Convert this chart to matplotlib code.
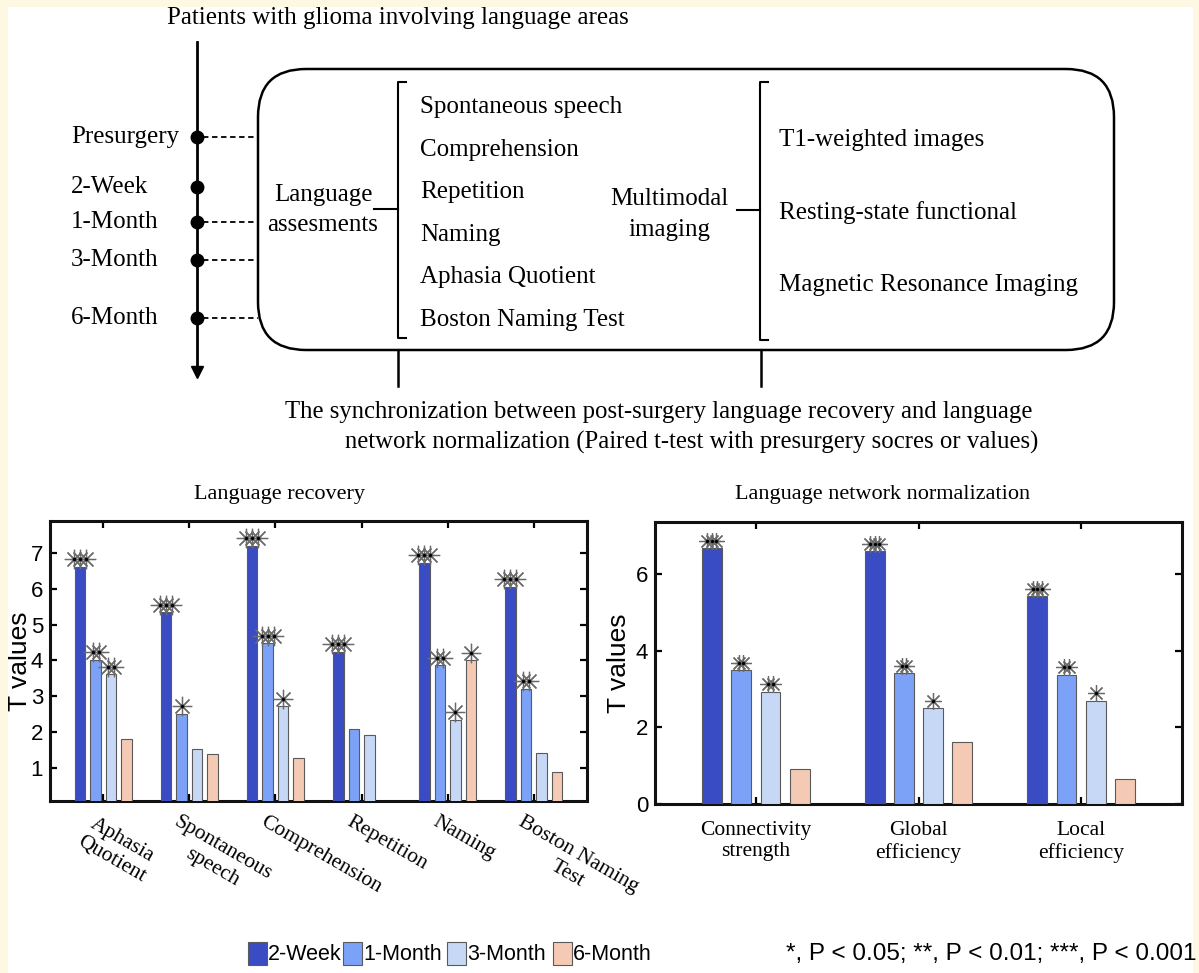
import matplotlib
matplotlib.use("Agg")
import matplotlib.pyplot as plt
from matplotlib.patches import FancyBboxPatch, Rectangle
from matplotlib.transforms import offset_copy
import numpy as np

W, H = 1199, 973
SERIF = ['Liberation Serif', 'DejaVu Serif']
SANS = ['Liberation Sans', 'DejaVu Sans']

# ---- study design ----
timepoints = ['Presurgery', '2-Week', '1-Month', '3-Month', '6-Month']
assessments = ['Spontaneous speech', 'Comprehension', 'Repetition', 'Naming',
               'Aphasia Quotient', 'Boston Naming Test']
imaging = ['T1-weighted images', 'Resting-state functional',
           'Magnetic Resonance Imaging']

# ---- series ----
series = ['2-Week', '1-Month', '3-Month', '6-Month']
colors = ['#3a4cc4', '#7ba2f6', '#c6d8f5', '#f5cab4']

# language recovery (T values vs presurgery)
recovery_labels = ['Aphasia\nQuotient', 'Spontaneous\nspeech', 'Comprehension',
                   'Repetition', 'Naming', 'Boston Naming\nTest']
recovery_2w = [6.62, 5.34, 7.20, 4.24, 6.72, 6.05]
recovery_1m = [4.02, 2.52, 4.48, 2.08, 3.87, 3.21]
recovery_3m = [3.62, 1.54, 2.72, 1.93, 2.35, 1.43]
recovery_6m = [1.82, 1.38, 1.27, 0.00, 4.00, 0.89]
recovery_sig_2w = [3, 3, 3, 3, 3, 3]
recovery_sig_1m = [2, 1, 3, 0, 2, 2]
recovery_sig_3m = [2, 0, 1, 0, 1, 0]
recovery_sig_6m = [0, 0, 0, 0, 1, 0]

# language network normalization
network_labels = ['Connectivity\nstrength', 'Global\nefficiency', 'Local\nefficiency']
network_2w = [6.67, 6.59, 5.42]
network_1m = [3.48, 3.41, 3.37]
network_3m = [2.93, 2.50, 2.69]
network_6m = [0.91, 1.62, 0.66]
network_sig_2w = [3, 3, 3]
network_sig_1m = [2, 2, 2]
network_sig_3m = [2, 1, 1]
network_sig_6m = [0, 0, 0]

p_note = '*, P < 0.05; **, P < 0.01; ***, P < 0.001'

fig = plt.figure(figsize=(W / 100, H / 100), dpi=100)
fig.patch.set_facecolor('white')

# ---------------- diagram (pixel coordinates) ----------------
ax0 = fig.add_axes([0, 0, 1, 1], zorder=0)
ax0.set_xlim(0, W)
ax0.set_ylim(H, 0)
ax0.axis('off')

tfs = 18
ax0.text(398, 18, 'Patients with glioma involving language areas',
         family=SERIF, fontsize=tfs, ha='center', va='center')

# timeline
tl_x = 197
ax0.plot([tl_x, tl_x], [42, 370], color='black', lw=2)
ax0.plot([tl_x], [372], marker='v', ms=8, color='black')
tp_y = [137, 187, 222, 260, 318]
dashed = [True, False, True, True, True]
for name, y, d in zip(timepoints, tp_y, dashed):
    ax0.plot([tl_x], [y], marker='o', ms=9, color='black')
    ax0.text(71, y, name, family=SERIF, fontsize=tfs, ha='left', va='center')
    if d:
        ax0.plot([tl_x + 6, 258], [y, y], color='black', lw=1.3, ls=(0, (3, 2)))

# rounded box
box = FancyBboxPatch((258, 69), 1114 - 258, 350 - 69,
                     boxstyle='round,pad=0,rounding_size=48',
                     fill=False, lw=1.8, ec='black')
ax0.add_patch(box)

ax0.text(323, 195, 'Language', family=SERIF, fontsize=tfs, ha='center', va='center')
ax0.text(323, 225, 'assesments', family=SERIF, fontsize=tfs, ha='center', va='center')


def bracket(x, y0, y1, ym, tick_from):
    ax0.plot([x + 8, x, x, x + 8], [y0, y0, y1, y1], color='black', lw=1.5)
    ax0.plot([tick_from, x], [ym, ym], color='black', lw=1.5)


bracket(398, 82, 338, 209, 374)
for i, s in enumerate(assessments):
    ax0.text(420, 107 + i * 42.6, s, family=SERIF, fontsize=tfs, ha='left', va='center')

ax0.text(669, 199, 'Multimodal', family=SERIF, fontsize=tfs, ha='center', va='center')
ax0.text(669, 230, 'imaging', family=SERIF, fontsize=tfs, ha='center', va='center')
bracket(760, 82, 340, 210, 737)
for i, s in enumerate(imaging):
    ax0.text(779, 140 + i * 72.5, s, family=SERIF, fontsize=tfs, ha='left', va='center')

ax0.plot([398, 398], [350, 386], color='black', lw=1.8)
ax0.plot([761, 761], [350, 386], color='black', lw=1.8)

ax0.text(285, 412, 'The synchronization between post-surgery language recovery and language',
         family=SERIF, fontsize=17.8, ha='left', va='center')
ax0.text(345, 442, 'network normalization (Paired t-test with presurgery socres or values)',
         family=SERIF, fontsize=17.8, ha='left', va='center')

ax0.text(279, 494, 'Language recovery', family=SERIF, fontsize=16, ha='center', va='center')
ax0.text(883, 494, 'Language network normalization', family=SERIF, fontsize=16,
         ha='center', va='center')


# ---------------- bar charts ----------------
def px_axes(l, t, r, b):
    return fig.add_axes([l / W, 1 - b / H, (r - l) / W, (b - t) / H], zorder=2)


offsets = [-0.27, -0.09, 0.09, 0.27]
bw = 0.122


def stars(ax, x, y, n, step, size):
    for k in range(n):
        off = (k - (n - 1) / 2) * step
        tr = offset_copy(ax.transData, fig=fig, x=off, y=7.5, units='dots')
        ax.plot([x], [y], marker=(8, 2, 0), ms=size, mec='#6a6a6a', mew=0.9,
                transform=tr, clip_on=False, zorder=5)
        ax.plot([x], [y], marker='o', ms=2.4, color='black', mec='none',
                transform=tr, clip_on=False, zorder=6)


def bar_chart(ax, vals, sigs, step, size):
    n = len(vals[0])
    xs = np.arange(1, n + 1)
    for j in range(4):
        ax.bar(xs + offsets[j], vals[j], width=bw, color=colors[j],
               edgecolor='#5a5a5a', linewidth=0.8, zorder=3)
        for x, v, s in zip(xs + offsets[j], vals[j], sigs[j]):
            if s:
                stars(ax, x, v, s, step, size)
    ax.set_xlim(0.38, n + 0.62)
    ax.set_xticks(xs)
    ax.tick_params(axis='both', direction='in', top=True, right=True,
                   length=5, width=1.6, labelsize=16, pad=5)
    for sp in ax.spines.values():
        sp.set_linewidth(2.2)
        sp.set_color('#111111')
    ax.set_ylabel('T values', fontsize=19, family=SANS)
    return xs


axL = px_axes(50, 521, 587, 801)
xsL = bar_chart(axL,
                [recovery_2w, recovery_1m, recovery_3m, recovery_6m],
                [recovery_sig_2w, recovery_sig_1m, recovery_sig_3m, recovery_sig_6m],
                6, 14)
axL.set_ylim(0.08, 7.89)
axL.set_yticks(range(1, 8))
axL.set_yticklabels([str(v) for v in range(1, 8)], family=SANS)
axL.set_xticklabels([])
axL.yaxis.set_label_coords(-0.033, 0.5)
for x, lab in zip(xsL, recovery_labels):
    axL.annotate(lab, xy=(x, 0), xycoords=('data', 'axes fraction'),
                 xytext=(-9, -12), textcoords='offset pixels',
                 rotation=-30, rotation_mode='anchor', ha='left', va='top',
                 multialignment='center', family=SERIF, fontsize=15.5)

axR = px_axes(655, 522, 1182, 804)
xsR = bar_chart(axR,
                [network_2w, network_1m, network_3m, network_6m],
                [network_sig_2w, network_sig_1m, network_sig_3m, network_sig_6m],
                4.5, 12)
axR.set_ylim(0, 7.35)
axR.set_yticks([0, 2, 4, 6])
axR.set_yticklabels(['0', '2', '4', '6'], family=SANS)
axR.set_xticklabels(network_labels, family=SERIF, fontsize=15.5)
axR.tick_params(axis='x', pad=12)
axR.yaxis.set_label_coords(-0.046, 0.5)

# ---------------- legend and border ----------------
axT = fig.add_axes([0, 0, 1, 1], zorder=10)
axT.set_xlim(0, W)
axT.set_ylim(H, 0)
axT.axis('off')
axT.patch.set_alpha(0)

leg_x = [248, 343, 447, 553]
for x, c, s in zip(leg_x, colors, series):
    axT.add_patch(Rectangle((x, 942), 19, 23, facecolor=c, edgecolor='#5a5a5a', lw=0.8))
    axT.text(x + 20, 954, s, family=SANS, fontsize=15.5, ha='left', va='center')
axT.text(1197, 954, p_note, family=SANS, fontsize=17.5, ha='right', va='center')

cream = '#fef7e1'
axT.add_patch(Rectangle((0, 0), W, 7, facecolor=cream, edgecolor='none'))
axT.add_patch(Rectangle((0, 0), 7.5, H, facecolor=cream, edgecolor='none'))
axT.add_patch(Rectangle((1193, 0), 6, H, facecolor=cream, edgecolor='none'))

fig.savefig('out.png', dpi=100)
